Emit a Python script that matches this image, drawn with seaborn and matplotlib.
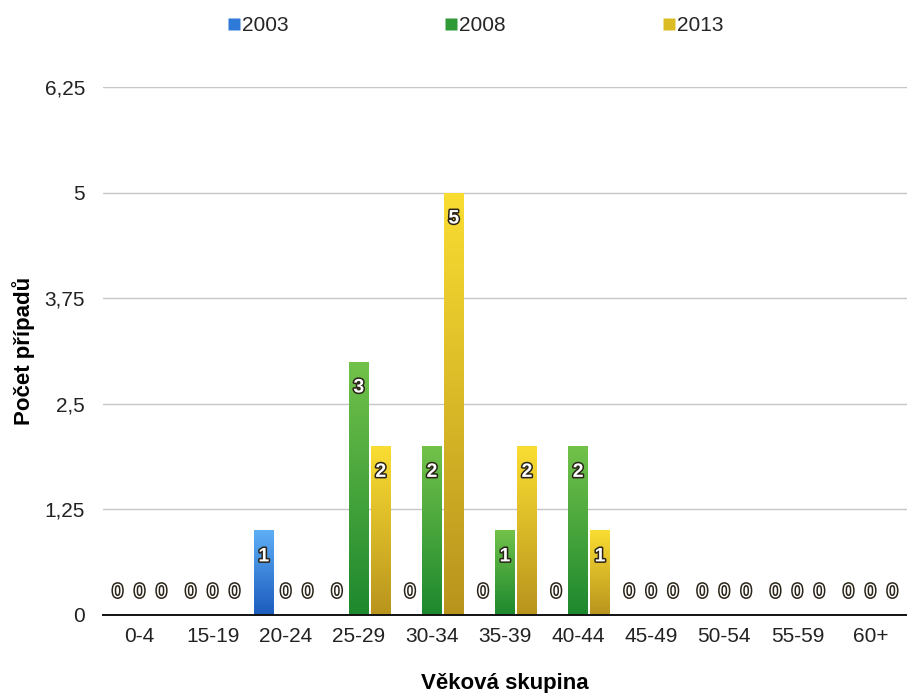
import numpy as np
import pandas as pd
import matplotlib
matplotlib.use("Agg")
import matplotlib.pyplot as plt
import matplotlib.patheffects as pe
from matplotlib.colors import LinearSegmentedColormap
from matplotlib.lines import Line2D
import seaborn as sns

# Age groups and case counts per survey year
age_groups = ["0-4", "15-19", "20-24", "25-29", "30-34", "35-39",
              "40-44", "45-49", "50-54", "55-59", "60+"]
cases_2003 = [0, 0, 1, 0, 0, 0, 0, 0, 0, 0, 0]
cases_2008 = [0, 0, 0, 3, 2, 1, 2, 0, 0, 0, 0]
cases_2013 = [0, 0, 0, 2, 5, 2, 1, 0, 0, 0, 0]
years = ["2003", "2008", "2013"]
y_ticks = [0, 1.25, 2.5, 3.75, 5, 6.25]
y_tick_labels = ["0", "1,25", "2,5", "3,75", "5", "6,25"]

# gradient (top, bottom) and legend swatch colours per year
grad = {
    "2003": ("#5eaef6", "#1b5bbd"),
    "2008": ("#72c24a", "#1d882e"),
    "2013": ("#fadd32", "#b8941d"),
}
swatch = {"2003": "#2f7ad8", "2008": "#2f9a36", "2013": "#dcbc24"}

df = pd.DataFrame({
    "group": age_groups * 3,
    "year": np.repeat(years, len(age_groups)),
    "cases": cases_2003 + cases_2008 + cases_2013,
})

sns.set_theme(style="white")
plt.rcParams["font.family"] = ["Liberation Sans", "DejaVu Sans"]

fig = plt.figure(figsize=(9.07, 6.93), dpi=100)
ax = fig.add_axes([0.1136, 0.1126, 0.8864, 0.7619])

sns.barplot(data=df, x="group", y="cases", hue="year", order=age_groups,
            hue_order=years, palette=swatch, width=0.9, gap=0.1,
            legend=False, ax=ax, errorbar=None)

ax.set_ylim(0, 6.25)
ax.set_xlim(-0.5, len(age_groups) - 0.5)

# repaint each bar with a vertical gradient clipped to the bar shape
for year, container in zip(years, ax.containers):
    top_c, bot_c = grad[year]
    cmap = LinearSegmentedColormap.from_list(year, [bot_c, top_c])
    grad_img = np.linspace(0, 1, 256).reshape(-1, 1)
    for bar, val in zip(container, container.datavalues):
        x0, w = bar.get_x(), bar.get_width()
        if val > 0:
            bar.set_facecolor("none")
            bar.set_edgecolor("none")
            im = ax.imshow(grad_img, cmap=cmap, origin="lower", aspect="auto",
                           extent=[x0, x0 + w, 0, val], zorder=2,
                           interpolation="bilinear")
            im.set_clip_path(bar)
            offset, weight = -19, "bold"
        else:
            offset, weight = 16, "normal"
        ax.annotate(f"{int(val)}", (x0 + w / 2, val), xytext=(0, offset),
                    textcoords="offset points", ha="center", va="center",
                    fontsize=14, fontweight=weight, color="white", zorder=5,
                    path_effects=[pe.withStroke(linewidth=2.2,
                                                foreground="#2a2418")])

ax.set_yticks(y_ticks)
ax.set_yticklabels(y_tick_labels)
ax.yaxis.grid(True, color="#c6c6c6", linewidth=1)
ax.set_axisbelow(True)
ax.tick_params(axis="both", length=0, labelsize=15, colors="#222222")
ax.tick_params(axis="y", pad=13)
ax.tick_params(axis="x", pad=9)
for side in ["top", "right", "left"]:
    ax.spines[side].set_visible(False)
ax.spines["bottom"].set_color("#111111")
ax.spines["bottom"].set_linewidth(1.4)
ax.spines["bottom"].set_zorder(4)

ax.set_xlabel("Věková skupina", fontsize=16, fontweight="bold",
              labelpad=19, color="black")
ax.set_ylabel("Počet případů", fontsize=16, fontweight="bold",
              labelpad=7, color="black")

handles = [Line2D([0], [0], marker="s", linestyle="none", markersize=8,
                  markerfacecolor=swatch[y], markeredgecolor="none")
           for y in years]
fig.legend(handles, years, loc="center", bbox_to_anchor=(0.523, 0.963),
           ncol=3, frameon=False, fontsize=15, handletextpad=0.0,
           handlelength=0.8, columnspacing=7.4)

fig.savefig("out.png", dpi=100)
